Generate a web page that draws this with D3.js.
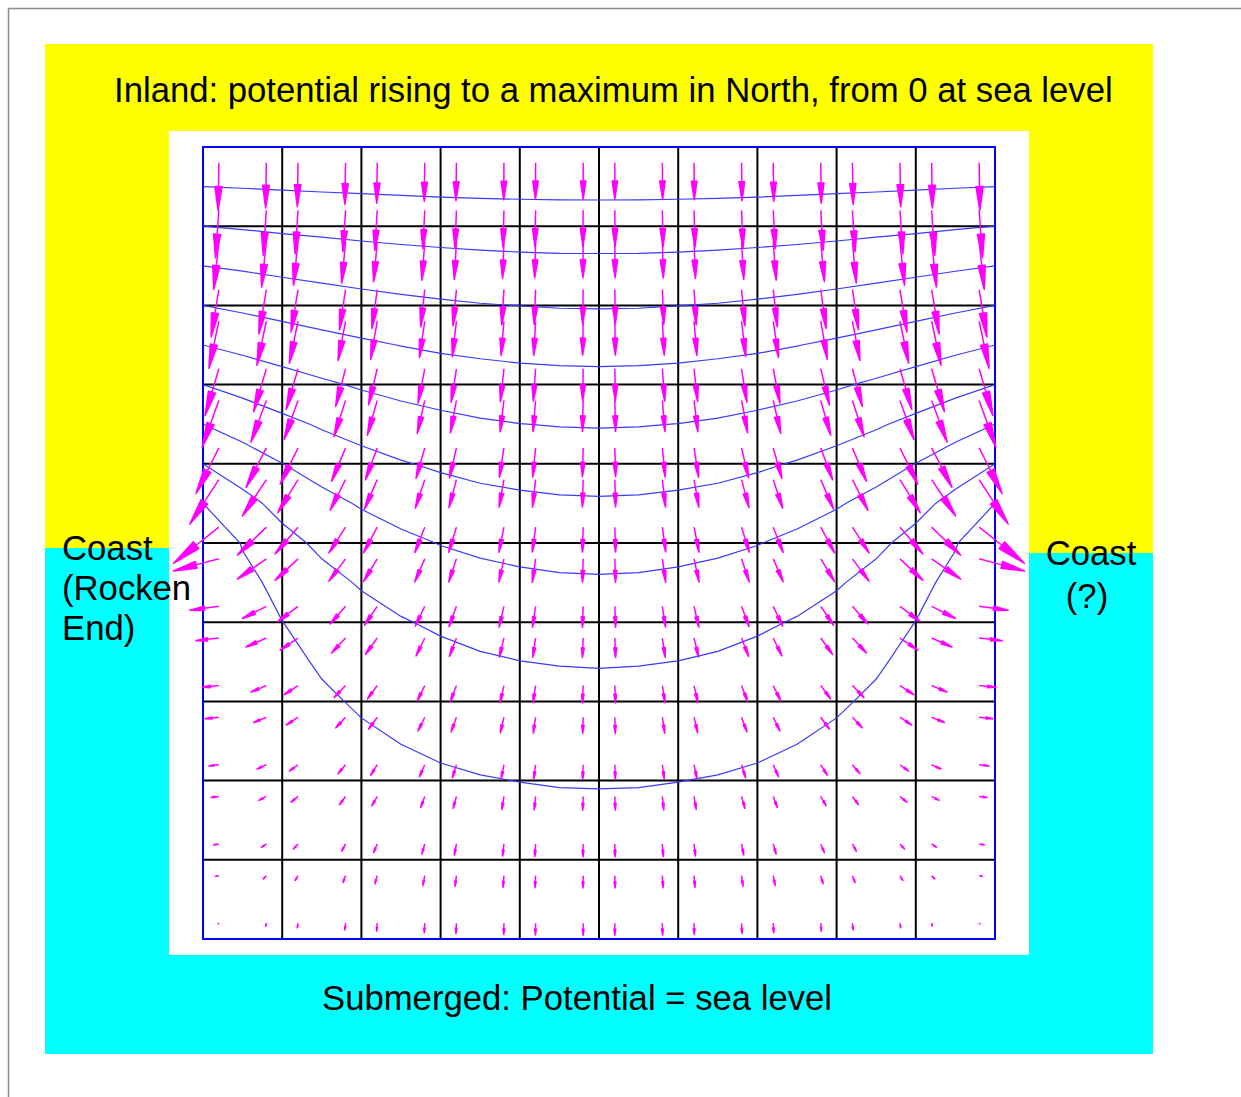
<!DOCTYPE html>
<html>
<head>
<meta charset="utf-8">
<script src="https://cdn.jsdelivr.net/npm/d3@7"></script>
<style>
  html, body { margin: 0; padding: 0; background: #fff; }
  svg { display: block; }
  text { font-family: "Liberation Sans", Arial, sans-serif; fill: #000; }
</style>
</head>
<body>
<svg id="chart" width="1241" height="1097"></svg>
<script>
// Potential (x1000) on a 21 x 21 node grid, spacing 0.5 map units (the map is 10 x 10).
// Rows run north (y = 0) to south (y = 10); columns cover the western half, x = 0 .. 5.
// The field is symmetric about the north-south centre line x = 5.
const potentialWest = [
  [1000, 1000, 1000, 1000, 1000, 1000, 1000, 1000, 1000, 1000, 1000],
  [ 900,  904,  908,  912,  915,  918,  921,  923,  924,  925,  925],
  [ 800,  808,  817,  824,  831,  837,  842,  846,  849,  850,  851],
  [ 700,  713,  726,  737,  748,  757,  764,  770,  774,  777,  777],
  [ 600,  618,  636,  652,  666,  678,  688,  696,  701,  705,  706],
  [ 500,  524,  547,  568,  586,  602,  615,  624,  631,  635,  636],
  [ 400,  431,  461,  487,  510,  529,  544,  555,  563,  568,  570],
  [ 300,  340,  377,  410,  437,  459,  476,  490,  499,  504,  506],
  [ 200,  252,  299,  338,  369,  394,  413,  428,  438,  444,  446],
  [ 100,  171,  229,  273,  308,  335,  355,  371,  381,  388,  390],
  [   0,  107,  171,  218,  254,  281,  303,  318,  329,  336,  338],
  [   0,   71,  129,  173,  208,  235,  255,  271,  281,  288,  290],
  [   0,   52,   99,  138,  169,  194,  213,  228,  238,  244,  246],
  [   0,   40,   77,  110,  137,  159,  176,  190,  199,  204,  206],
  [   0,   31,   61,   87,  110,  129,  144,  155,  163,  168,  170],
  [   0,   24,   47,   68,   86,  102,  115,  124,  131,  135,  136],
  [   0,   18,   36,   52,   66,   78,   88,   96,  101,  105,  106],
  [   0,   13,   26,   37,   48,   57,   64,   70,   74,   77,   77],
  [   0,    8,   17,   24,   31,   37,   42,   46,   49,   50,   51],
  [   0,    4,    8,   12,   15,   18,   21,   23,   24,   25,   25],
  [   0,    0,    0,    0,    0,    0,    0,    0,    0,    0,    0]
];
const gridStep = 0.5;

// Contour levels (x1000): 0.1 .. 0.9 of the northern maximum.
const contourLevels = [100, 200, 300, 400, 500, 600, 700, 800, 900];

// Downhill flow (-grad potential, x1000 per map unit) at the arrow stations.
// Stations sit at 0.2 and 0.8 of each map square; rows north -> south, western half columns.
const samplePos = [0.2, 0.8, 1.2, 1.8, 2.2, 2.8, 3.2, 3.8, 4.2, 4.8,
                   5.2, 5.8, 6.2, 6.8, 7.2, 7.8, 8.2, 8.8, 9.2, 9.8];
const flowEastWest = [
  [  -3,   -3,   -3,   -3,   -2,   -2,   -2,   -1,   -1,    0],
  [ -14,  -13,  -12,  -11,  -10,   -8,   -6,   -4,   -3,   -1],
  [ -21,  -20,  -19,  -16,  -15,  -12,   -9,   -6,   -4,   -1],
  [ -32,  -31,  -29,  -25,  -22,  -17,  -14,   -9,   -6,   -2],
  [ -41,  -39,  -36,  -31,  -27,  -22,  -17,  -12,   -8,   -2],
  [ -57,  -53,  -49,  -41,  -36,  -28,  -22,  -15,  -10,   -2],
  [ -69,  -64,  -58,  -48,  -41,  -31,  -25,  -16,  -11,   -3],
  [ -95,  -84,  -74,  -58,  -49,  -36,  -29,  -19,  -12,   -3],
  [-120,  -99,  -84,  -64,  -53,  -39,  -31,  -20,  -13,   -3],
  [-188, -120,  -95,  -69,  -57,  -41,  -32,  -21,  -14,   -3],
  [-188, -120,  -95,  -69,  -57,  -41,  -32,  -21,  -14,   -3],
  [-120,  -99,  -84,  -64,  -53,  -39,  -31,  -20,  -13,   -3],
  [ -95,  -84,  -74,  -58,  -49,  -36,  -29,  -19,  -12,   -3],
  [ -69,  -64,  -58,  -48,  -41,  -31,  -25,  -16,  -11,   -3],
  [ -57,  -53,  -49,  -41,  -36,  -28,  -22,  -15,  -10,   -2],
  [ -41,  -39,  -36,  -31,  -27,  -22,  -17,  -12,   -8,   -2],
  [ -32,  -31,  -29,  -25,  -22,  -17,  -14,   -9,   -6,   -2],
  [ -21,  -20,  -19,  -16,  -15,  -12,   -9,   -6,   -4,   -1],
  [ -14,  -13,  -12,  -11,  -10,   -8,   -6,   -4,   -3,   -1],
  [  -3,   -3,   -3,   -3,   -2,   -2,   -2,   -1,   -1,    0]
];
const flowNorthSouth = [
  [197, 187, 181, 172, 167, 160, 157, 153, 151, 150],
  [197, 186, 180, 171, 166, 159, 156, 152, 150, 149],
  [196, 186, 179, 170, 164, 158, 154, 150, 148, 147],
  [196, 184, 176, 166, 161, 154, 150, 146, 144, 143],
  [195, 182, 174, 163, 157, 150, 146, 142, 141, 140],
  [194, 178, 168, 156, 150, 143, 139, 136, 134, 133],
  [193, 173, 162, 150, 144, 137, 134, 130, 129, 128],
  [189, 163, 150, 138, 132, 126, 124, 121, 120, 119],
  [184, 150, 137, 127, 122, 118, 116, 114, 114, 113],
  [150, 116, 111, 107, 106, 105, 104, 104, 103, 103],
  [ 50,  84,  89,  93,  94,  95,  96,  96,  97,  97],
  [ 16,  50,  63,  73,  78,  82,  84,  86,  86,  87],
  [ 11,  37,  50,  62,  68,  74,  76,  79,  80,  81],
  [  7,  27,  38,  50,  56,  63,  66,  70,  71,  72],
  [  6,  22,  32,  44,  50,  57,  61,  64,  66,  67],
  [  5,  18,  26,  37,  43,  50,  54,  58,  59,  60],
  [  4,  16,  24,  34,  39,  46,  50,  54,  56,  57],
  [  4,  14,  21,  30,  36,  42,  46,  50,  52,  53],
  [  3,  14,  20,  29,  34,  41,  44,  48,  50,  51],
  [  3,  13,  19,  28,  33,  40,  43,  47,  49,  50]
];

// Map squares for the reference grid.
const gridTicks = [0, 1, 2, 3, 4, 5, 6, 7, 8, 9, 10];

// Labels.
const titleNorth = "Inland: potential rising to a maximum in North, from 0 at sea level";
const titleSouth = "Submerged: Potential = sea level";
const coastWest = ["Coast", "(Rocken", "End)"];
const coastEast = ["Coast", "(?)"];

// ---------------------------------------------------------------------------
const svg = d3.select("#chart");
const labelSize = 34.7;

// Page frame
svg.append("rect").attr("x", 8.5).attr("y", 8.5).attr("width", 1400).attr("height", 1300)
  .attr("fill", "none").attr("stroke", "#8c8c8c").attr("stroke-width", 1.5);

// Land (yellow) and sea (cyan) surroundings
svg.append("rect").attr("x", 45).attr("y", 44).attr("width", 1108).attr("height", 1010).attr("fill", "#ffff00");
svg.append("rect").attr("x", 45).attr("y", 548).attr("width", 124).attr("height", 506).attr("fill", "#00ffff");
svg.append("rect").attr("x", 1029).attr("y", 553).attr("width", 124).attr("height", 501).attr("fill", "#00ffff");
svg.append("rect").attr("x", 45).attr("y", 955).attr("width", 1108).attr("height", 99).attr("fill", "#00ffff");
svg.append("rect").attr("x", 169).attr("y", 131).attr("width", 860).attr("height", 824).attr("fill", "#ffffff");

// Map scales (map units -> pixels)
const x = d3.scaleLinear().domain([0, 10]).range([203, 995]);
const y = d3.scaleLinear().domain([0, 10]).range([147, 939]);

// Grid squares
const grid = svg.append("g");
grid.selectAll("line.v").data(gridTicks.slice(1, -1)).join("line")
  .attr("x1", d => x(d)).attr("x2", d => x(d)).attr("y1", y(0)).attr("y2", y(10))
  .attr("stroke", "#000").attr("stroke-width", 2);
grid.selectAll("line.h").data(gridTicks.slice(1, -1)).join("line")
  .attr("y1", d => y(d)).attr("y2", d => y(d)).attr("x1", x(0)).attr("x2", x(10))
  .attr("stroke", "#000").attr("stroke-width", 2);

// Full potential grid (mirror the western half onto the east)
const potential = potentialWest.map(r => r.concat(r.slice(0, r.length - 1).reverse()));
const nx = potential[0].length, ny = potential.length;
const values = potential.flat();

const contours = d3.contours().size([nx, ny]).thresholds(contourLevels)(values);
const toMap = d3.geoTransform({
  point(px, py) { this.stream.point(x((px - 0.5) * gridStep), y((py - 0.5) * gridStep)); }
});
const contourPath = d3.geoPath(toMap);

svg.append("clipPath").attr("id", "mapClip").append("rect")
  .attr("x", x(0)).attr("y", y(0)).attr("width", x(10) - x(0)).attr("height", y(10) - y(0));

svg.append("g").attr("clip-path", "url(#mapClip)")
  .selectAll("path").data(contours).join("path")
  .attr("d", contourPath)
  .attr("fill", "none").attr("stroke", "#3a3aff").attr("stroke-width", 1.2);

// Map border
svg.append("rect").attr("x", x(0)).attr("y", y(0)).attr("width", x(10) - x(0)).attr("height", y(10) - y(0))
  .attr("fill", "none").attr("stroke", "#0000ff").attr("stroke-width", 2);

// Flow arrows: tail at each station, length proportional to the downhill gradient
const arrowGain = 3.05; // map units of arrow per unit of gradient
const arrows = [];
flowEastWest.forEach((row, j) => {
  const u = row.concat(row.slice().reverse().map(v => -v));
  const v = flowNorthSouth[j].concat(flowNorthSouth[j].slice().reverse());
  samplePos.forEach((sx, i) => {
    arrows.push({ sx, sy: samplePos[j], u: u[i] / 1000, v: v[i] / 1000 });
  });
});

function arrowPath(d) {
  const x0 = x(d.sx), y0 = y(d.sy);
  const x1 = x(d.sx + d.u * arrowGain), y1 = y(d.sy + d.v * arrowGain);
  const dx = x1 - x0, dy = y1 - y0, len = Math.hypot(dx, dy);
  if (len < 0.01) return "";
  const ux = dx / len, uy = dy / len;
  const headLen = 0.5 * len, halfW = 0.075 * len;
  const bx = x1 - ux * headLen, by = y1 - uy * headLen;
  return `M${x0},${y0}L${bx},${by}` +
         `M${x1},${y1}L${bx - uy * halfW},${by + ux * halfW}L${bx + uy * halfW},${by - ux * halfW}Z`;
}

svg.append("g").selectAll("path").data(arrows).join("path")
  .attr("d", arrowPath)
  .attr("fill", "#ff00ff").attr("stroke", "#ff00ff").attr("stroke-width", 1.5)
  .attr("stroke-linejoin", "round");

// Labels
svg.append("text").attr("x", 114).attr("y", 102).attr("font-size", labelSize).text(titleNorth);
svg.append("text").attr("x", 322).attr("y", 1010).attr("font-size", labelSize).text(titleSouth);
svg.append("text").attr("x", 62).attr("y", 560).attr("font-size", labelSize)
  .selectAll("tspan").data(coastWest).join("tspan")
  .attr("x", 62).attr("dy", (d, i) => i === 0 ? 0 : 40).text(d => d);
svg.append("text").attr("y", 565).attr("font-size", labelSize).attr("text-anchor", "middle")
  .selectAll("tspan").data(coastEast).join("tspan")
  .attr("x", (d, i) => i === 0 ? 1091 : 1087).attr("dy", (d, i) => i === 0 ? 0 : 43).text(d => d);
</script>
</body>
</html>
